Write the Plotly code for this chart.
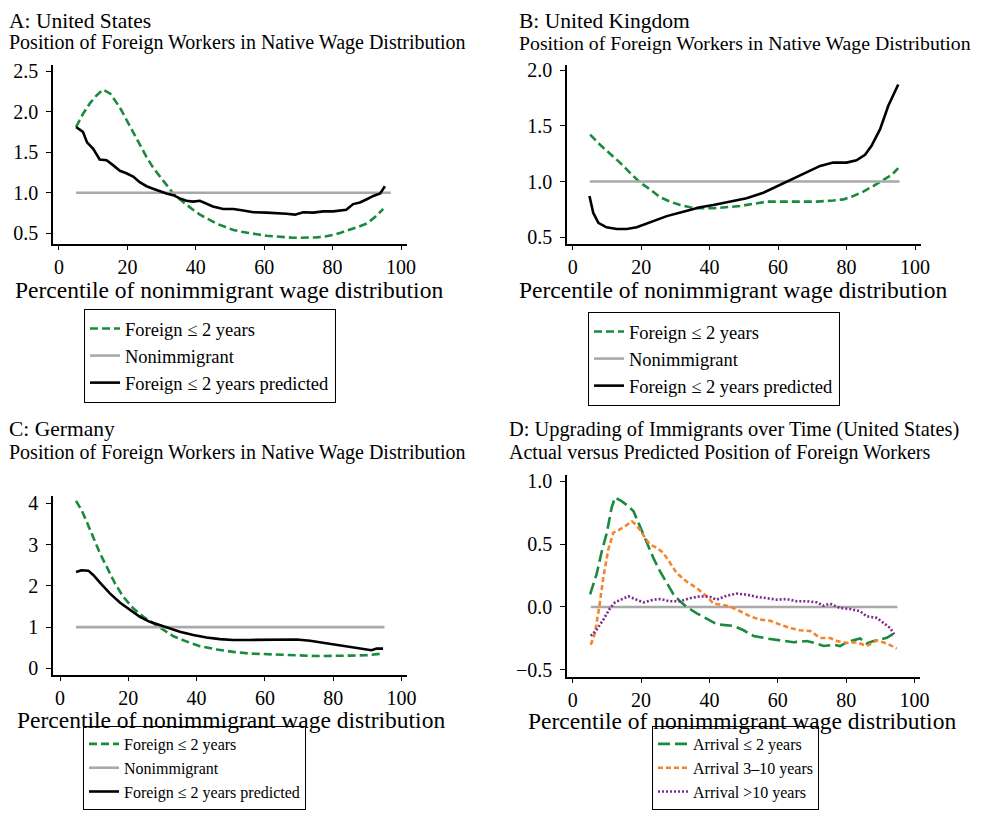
import plotly.graph_objects as go

# The page keeps the browser's 8px body margin, so the figure is sized to fit
# exactly inside it (967x803 drawn from page pixel 8,8).
OFF = 8
W, H = 983 - 2 * OFF, 819 - 2 * OFF
FONT = "Liberation Serif"
GREEN = "#1a8a3c"
GRAY = "#a9a9a9"
BLACK = "#000000"
ORANGE = "#f5842a"
PURPLE = "#7b2b8e"

# ---------------- Panel A: United States ----------------
us_x_foreign = [5, 7, 9, 11, 12.9, 15, 17.8, 19.7, 21.7, 23.6, 25.6, 27.5, 29.5, 31.4, 33.4, 35.3,
                37.3, 39.2, 41.2, 43.6, 46, 48.5, 51, 53.4, 55.8, 58.3, 60.7, 63.2, 65.6, 68, 70.4,
                72.9, 75.3, 77.8, 80.2, 82.6, 85, 87.5, 90, 92.4, 94.8]
us_foreign = [1.81, 1.97, 2.10, 2.20, 2.27, 2.22, 2.05, 1.90, 1.73, 1.58, 1.44, 1.31, 1.20, 1.09, 0.99, 0.92,
              0.85, 0.79, 0.73, 0.67, 0.62, 0.58, 0.54, 0.52, 0.50, 0.485, 0.47, 0.46, 0.45, 0.447, 0.445,
              0.445, 0.45, 0.46, 0.48, 0.51, 0.54, 0.58, 0.62, 0.70, 0.80]
us_x_pred = [5, 7, 8.2, 10, 11.9, 13.9, 15.8, 17.8, 19.7, 21.7, 23.6, 25.6, 27.5, 29.5, 31.4, 33.4,
             35.3, 37.3, 39.2, 41.2, 43.1, 45, 48, 51, 53.9, 56.8, 60.7, 63.6, 66.5, 69, 71.4, 74.3,
             77.3, 80.2, 84, 86, 88, 90, 91.9, 93.9, 95.3]
us_pred = [1.81, 1.75, 1.62, 1.54, 1.41, 1.40, 1.34, 1.27, 1.24, 1.20, 1.13, 1.08, 1.05, 1.02, 0.99, 0.97,
           0.93, 0.90, 0.89, 0.90, 0.87, 0.83, 0.80, 0.80, 0.78, 0.76, 0.755, 0.75, 0.74, 0.73, 0.76, 0.755,
           0.77, 0.77, 0.79, 0.86, 0.88, 0.92, 0.96, 0.99, 1.08]
us_x_native = [5, 97]
us_native = [1.0, 1.0]

# ---------------- Panel B: United Kingdom ----------------
uk_x_foreign = [5.1, 8, 10.9, 13.8, 16.7, 19.7, 22.6, 25.5, 28.4, 31.4, 34.3, 37.2, 41.1, 45, 48.9,
                52.8, 56.7, 61.5, 66.4, 71.3, 76.1, 79.1, 82, 84.9, 87.8, 90.7, 93.2, 95.1]
uk_foreign = [1.42, 1.33, 1.25, 1.17, 1.08, 0.99, 0.93, 0.86, 0.82, 0.79, 0.77, 0.76, 0.76, 0.77, 0.78,
              0.80, 0.82, 0.82, 0.82, 0.82, 0.83, 0.84, 0.87, 0.91, 0.96, 1.01, 1.06, 1.12]
uk_x_pred = [4.9, 6, 7.5, 9.9, 12.9, 15.8, 18.7, 22.6, 27.5, 32.3, 37.2, 41.1, 46, 50.8, 55.7, 60.6,
             64.5, 68.4, 72.3, 76.1, 80, 82.9, 85.4, 87.3, 89.8, 92.2, 95.1]
uk_pred = [0.87, 0.72, 0.63, 0.59, 0.575, 0.575, 0.59, 0.635, 0.69, 0.73, 0.77, 0.79, 0.82, 0.85, 0.90, 0.97,
           1.03, 1.08, 1.14, 1.17, 1.17, 1.19, 1.24, 1.32, 1.47, 1.68, 1.87]
uk_x_native = [5, 95.5]
uk_native = [1.0, 1.0]

# ---------------- Panel C: Germany ----------------
de_x_foreign = [4.7, 6.3, 7.8, 9.8, 11.7, 13.7, 16.1, 18.5, 21.5, 24.4, 27.3, 30.2, 33.2, 37.1, 41,
                45.9, 50.7, 55.6, 60.5, 65.4, 70.2, 75.1, 80, 84.9, 89.8, 94.6]
de_foreign = [4.06, 3.84, 3.56, 3.15, 2.79, 2.46, 2.06, 1.74, 1.45, 1.25, 1.09, 0.93, 0.78, 0.65, 0.54,
              0.46, 0.40, 0.36, 0.34, 0.32, 0.315, 0.30, 0.30, 0.31, 0.32, 0.36]
de_x_pred = [4.7, 6.3, 8.3, 9.8, 11.7, 14.6, 17.6, 20.5, 23.4, 26.3, 29.3, 32.2, 35.1, 39, 42.9, 46.8,
             50.7, 55.6, 60.5, 65.4, 69.3, 73.2, 78, 82.9, 87.8, 91.2, 92.7, 94.6]
de_pred = [2.34, 2.38, 2.37, 2.26, 2.08, 1.82, 1.59, 1.41, 1.25, 1.13, 1.05, 0.96, 0.89, 0.81, 0.75, 0.71,
           0.69, 0.69, 0.69, 0.70, 0.70, 0.67, 0.61, 0.55, 0.50, 0.44, 0.48, 0.48]
de_x_native = [4.7, 95]
de_native = [1.0, 1.0]

# ---------------- Panel D: Upgrading (United States) ----------------
d_x_arr2 = [5.1, 7, 8.5, 10, 11.4, 12.4, 14.3, 16.3, 17.8, 19.7, 21.7, 23.6, 25.6, 27.5, 29.5, 31.4,
            33.4, 36.3, 39.2, 41.7, 43.1, 47, 50, 52.9, 56.8, 60.7, 64.6, 68.5, 71.4, 73.4, 76.3,
            78.2, 80.2, 82.1, 84.1, 86, 88, 89.9, 91.9, 93.4, 94.8]
d_arr2 = [0.10, 0.26, 0.44, 0.59, 0.79, 0.87, 0.84, 0.80, 0.76, 0.64, 0.51, 0.39, 0.28, 0.19, 0.10, 0.045,
          0.0, -0.05, -0.09, -0.13, -0.14, -0.15, -0.185, -0.23, -0.25, -0.265, -0.28, -0.27, -0.29, -0.31, -0.30,
          -0.31, -0.28, -0.265, -0.25, -0.29, -0.27, -0.26, -0.245, -0.22, -0.23]
d_x_arr3 = [5.3, 6.5, 7.8, 9, 10.4, 11.9, 13.4, 15.3, 17.3, 18.7, 20.7, 22.6, 24.6, 26.5, 28.5, 30.4,
            33.4, 36.3, 39.2, 41.2, 43.1, 46, 49, 51.9, 54.8, 57.8, 60.7, 63.6, 66.5, 69.5, 72.4,
            75.3, 77.3, 80.2, 83.1, 86, 89, 91.9, 94.8]
d_arr3 = [-0.30, -0.21, 0.005, 0.24, 0.455, 0.59, 0.61, 0.64, 0.68, 0.65, 0.57, 0.495, 0.47, 0.43, 0.35, 0.27,
          0.20, 0.15, 0.085, 0.026, 0.02, 0.005, -0.034, -0.074, -0.10, -0.11, -0.14, -0.167, -0.185, -0.19, -0.246,
          -0.246, -0.27, -0.286, -0.28, -0.31, -0.265, -0.29, -0.33]
d_x_arr10 = [5.3, 7, 9, 10.9, 12.4, 14.3, 16.3, 18.2, 20.7, 23.6, 25.6, 28.5, 31.4, 34.3, 37.3, 40.2,
             42.1, 45.1, 48, 50.9, 53.9, 56.8, 59.7, 62.6, 65.6, 68.5, 71.4, 73.4, 75.3, 78.2, 81.2,
             84.1, 86, 89, 90.9, 92.9, 94.3]
d_arr10 = [-0.23, -0.18, -0.10, -0.01, 0.037, 0.058, 0.085, 0.063, 0.037, 0.058, 0.063, 0.045, 0.045, 0.07, 0.085, 0.08,
           0.058, 0.09, 0.106, 0.098, 0.08, 0.07, 0.058, 0.063, 0.045, 0.045, 0.037, 0.01, 0.026, -0.008, -0.016,
           -0.034, -0.074, -0.087, -0.127, -0.167, -0.23]
d_x_zero = [5.3, 95]
d_zero = [0.0, 0.0]

x_ticks = [0, 20, 40, 60, 80, 100]
us_yticks = [0.5, 1.0, 1.5, 2.0, 2.5]
uk_yticks = [0.5, 1.0, 1.5, 2.0]
de_yticks = [0, 1, 2, 3, 4]
d_yticks = [-0.5, 0.0, 0.5, 1.0]

LEG3 = ["Foreign \u2264 2 years", "Nonimmigrant", "Foreign \u2264 2 years predicted"]
LEGD = ["Arrival \u2264 2 years", "Arrival 3\u201310 years", "Arrival >10 years"]


def fx(p):
    return (p - OFF) / W


def fy(p):
    return 1 - (p - OFF) / H


fig = go.Figure()


def add_country(suffix, legname, xf, yf, xn, yn, xp, yp):
    xa = "x" + suffix
    ya = "y" + suffix
    fig.add_trace(go.Scatter(x=xf, y=yf, mode="lines", name=LEG3[0], xaxis=xa, yaxis=ya,
                             line=dict(color=GREEN, width=2.6, dash="8px,4px"), legend=legname))
    fig.add_trace(go.Scatter(x=xn, y=yn, mode="lines", name=LEG3[1], xaxis=xa, yaxis=ya,
                             line=dict(color=GRAY, width=2.6), legend=legname))
    fig.add_trace(go.Scatter(x=xp, y=yp, mode="lines", name=LEG3[2], xaxis=xa, yaxis=ya,
                             line=dict(color=BLACK, width=2.6), legend=legname))


add_country("", "legend", us_x_foreign, us_foreign, us_x_native, us_native, us_x_pred, us_pred)
add_country("2", "legend2", uk_x_foreign, uk_foreign, uk_x_native, uk_native, uk_x_pred, uk_pred)
add_country("3", "legend3", de_x_foreign, de_foreign, de_x_native, de_native, de_x_pred, de_pred)

fig.add_trace(go.Scatter(x=d_x_zero, y=d_zero, mode="lines", showlegend=False, xaxis="x4", yaxis="y4",
                         line=dict(color=GRAY, width=2.6), legend="legend4"))
fig.add_trace(go.Scatter(x=d_x_arr2, y=d_arr2, mode="lines", name=LEGD[0], xaxis="x4", yaxis="y4",
                         line=dict(color=GREEN, width=2.6, dash="12px,5px"), legend="legend4"))
fig.add_trace(go.Scatter(x=d_x_arr3, y=d_arr3, mode="lines", name=LEGD[1], xaxis="x4", yaxis="y4",
                         line=dict(color=ORANGE, width=2.6, dash="5px,3px"), legend="legend4"))
fig.add_trace(go.Scatter(x=d_x_arr10, y=d_arr10, mode="lines", name=LEGD[2], xaxis="x4", yaxis="y4",
                         line=dict(color=PURPLE, width=2.6, dash="2px,2px"), legend="legend4"))

tickfont = dict(family=FONT, size=20, color="black")


def xax(dom, rng, anchor):
    return dict(domain=[fx(dom[0]), fx(dom[1])], range=rng, anchor=anchor, tickvals=x_ticks,
                showline=True, linecolor="black", linewidth=1.5, ticks="outside", ticklen=4,
                tickwidth=1.3, tickcolor="black", showgrid=False, zeroline=False, tickfont=tickfont,
                automargin=False, fixedrange=True)


def yax(dom, rng, anchor, vals, fmt):
    return dict(domain=[fy(dom[1]), fy(dom[0])], range=rng, anchor=anchor, tickvals=vals,
                ticktext=[fmt.format(v).replace("-", "\u2212") for v in vals],
                showline=True, linecolor="black", linewidth=1.5, ticks="outside", ticklen=5,
                tickwidth=1.3, tickcolor="black", showgrid=False, zeroline=False, tickfont=tickfont,
                ticklabelstandoff=4, automargin=False, fixedrange=True)


def leg(x, y, size, anchor="top"):
    return dict(x=fx(x), y=fy(y), xanchor="left", yanchor=anchor, bgcolor="white",
                bordercolor="black", borderwidth=1,
                font=dict(family=FONT, size=size, color="black"), tracegroupgap=0,
                itemwidth=30)


anns = []


def txt(x, y, s, size, xanchor="left", yanchor="middle"):
    anns.append(dict(x=fx(x), y=fy(y), xref="paper", yref="paper", text=s, showarrow=False,
                     xanchor=xanchor, yanchor=yanchor, borderpad=0,
                     font=dict(family=FONT, size=size, color="black")))


SUB = "Position of Foreign Workers in Native Wage Distribution"
XT = "Percentile of nonimmigrant wage distribution"
txt(8, 8, "A: United States", 21.5, yanchor="top")
txt(8, 43, SUB, 20)
txt(518, 8, "B: United Kingdom", 21.5, yanchor="top")
txt(518, 43, SUB, 19.8)
txt(8, 429, "C: Germany", 21.5)
txt(8, 452.5, SUB, 20)
txt(508, 429.5, "D: Upgrading of Immigrants over Time (United States)", 20.4)
txt(508, 452.5, "Actual versus Predicted Position of Foreign Workers", 20)
txt(229, 290, XT, 23.5, "center")
txt(733, 290, XT, 23.5, "center")
txt(231, 719.5, XT, 23.5, "center")
txt(742, 721, XT, 23.5, "center")

fig.update_layout(
    width=W, height=H, margin=dict(l=0, r=0, t=0, b=0, autoexpand=False),
    paper_bgcolor="white", plot_bgcolor="white",
    font=dict(family=FONT, color="black"),
    xaxis=xax((53, 407), [-1.75, 101.75], "y"),
    yaxis=yax((65, 244), [0.368, 2.574], "x", us_yticks, "{:.1f}"),
    xaxis2=xax((567, 921), [-1.66, 101.75], "y2"),
    yaxis2=yax((65, 244), [0.44, 2.045], "x2", uk_yticks, "{:.1f}"),
    xaxis3=xax((53, 407), [-2.05, 101.6], "y3"),
    yaxis3=yax((496, 675), [-0.16, 4.18], "x3", de_yticks, "{:d}"),
    xaxis4=xax((567, 920), [-1.66, 101.6], "y4"),
    yaxis4=yax((475, 677), [-0.556, 1.048], "x4", d_yticks, "{:.1f}"),
    legend=leg(84, 309, 18.5),
    legend2=leg(588, 312, 18.5),
    legend3=leg(83, 810, 16, "bottom"),
    legend4=leg(652, 810, 16, "bottom"),
    annotations=anns,
    showlegend=True,
)

fig.write_html("out.html")
